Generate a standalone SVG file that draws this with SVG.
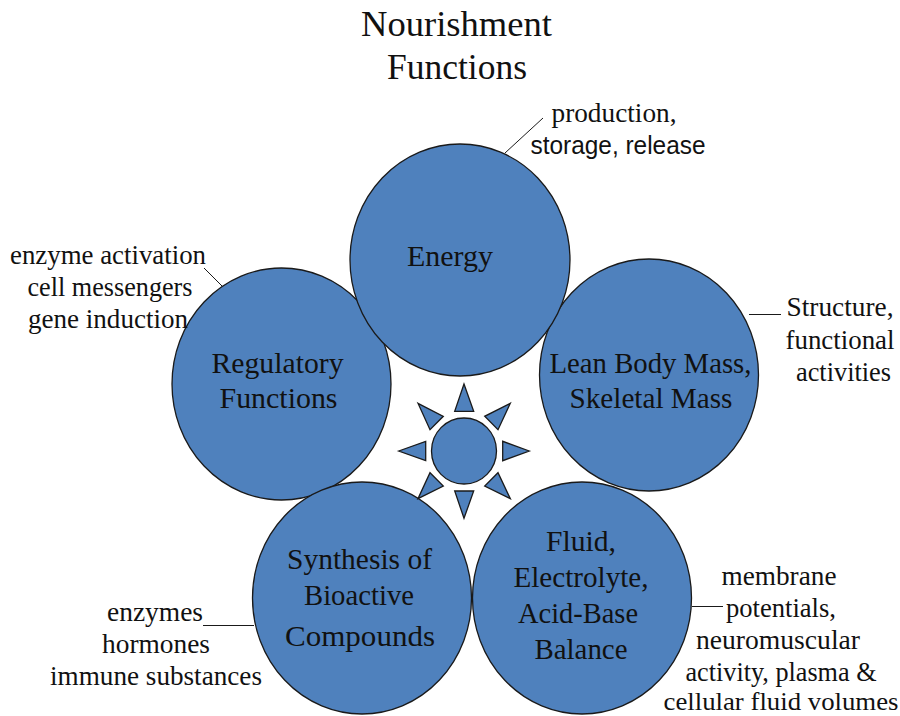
<svg xmlns="http://www.w3.org/2000/svg" width="900" height="716" viewBox="0 0 900 716">
<style>
.c{fill:#4f81bd;stroke:#1a1a1a;stroke-width:1.3}
.l{stroke:#1a1a1a;stroke-width:1;fill:none}
text{font-family:"Liberation Serif",serif;fill:#111;text-anchor:middle}
.t{font-size:35px}.n{font-size:29px}.a{font-size:27px}.b{font-size:26px}
.s{font-family:"Liberation Sans",sans-serif;font-size:25px}
</style>
<rect width="900" height="716" fill="#fff"/>
<g id="connectors">
<path class="l" d="M505 153L543 118"/>
<path class="l" d="M204 268L222 286"/>
<path class="l" d="M749 314.500H781"/>
<path class="l" d="M692 606.500H723"/>
<path class="l" d="M203 625.500H254"/>
</g>
<g id="title"><text class="t" x="456.500" y="36" textLength="191" lengthAdjust="spacingAndGlyphs">Nourishment</text><text class="t" x="457" y="79" textLength="140" lengthAdjust="spacingAndGlyphs">Functions</text></g>
<g id="regulatory"><ellipse class="c" cx="281.500" cy="384" rx="109.500" ry="116"/><text class="n" x="277.500" y="373" textLength="132" lengthAdjust="spacingAndGlyphs">Regulatory</text><text class="n" x="278.500" y="408" textLength="118" lengthAdjust="spacingAndGlyphs">Functions</text></g>
<g id="lean"><ellipse class="c" cx="649" cy="375" rx="109.500" ry="116"/><text class="n" x="650.500" y="373" textLength="202" lengthAdjust="spacingAndGlyphs">Lean Body Mass,</text><text class="n" x="651" y="408" textLength="163" lengthAdjust="spacingAndGlyphs">Skeletal Mass</text></g>
<g id="energy"><ellipse class="c" cx="460" cy="260" rx="110" ry="116"/><text class="n" x="450" y="266" textLength="86" lengthAdjust="spacingAndGlyphs">Energy</text></g>
<g id="synthesis"><ellipse class="c" cx="362" cy="598" rx="109.500" ry="116"/><text class="n" x="359.500" y="569" textLength="145" lengthAdjust="spacingAndGlyphs">Synthesis of</text><text class="n" x="359" y="605" textLength="110" lengthAdjust="spacingAndGlyphs">Bioactive</text><text class="n" x="360" y="646" textLength="150" lengthAdjust="spacingAndGlyphs">Compounds</text></g>
<g id="fluid"><ellipse class="c" cx="582" cy="598" rx="109.500" ry="116"/><text class="n" x="581" y="551" textLength="70" lengthAdjust="spacingAndGlyphs">Fluid,</text><text class="n" x="581" y="587" textLength="135" lengthAdjust="spacingAndGlyphs">Electrolyte,</text><text class="n" x="578" y="623" textLength="120" lengthAdjust="spacingAndGlyphs">Acid-Base</text><text class="n" x="581" y="659" textLength="93" lengthAdjust="spacingAndGlyphs">Balance</text></g>
<g id="sun">
<ellipse class="c" cx="464" cy="451" rx="32.500" ry="33"/>
<path class="c" d="M464 384L454.700 411.300H473.700Z"/>
<path class="c" d="M510.300 403.300L484.700 416.300L498 429.700Z"/>
<path class="c" d="M529.300 451L502.700 441.300V460.700Z"/>
<path class="c" d="M510.300 498.700L484.700 486L498 472.700Z"/>
<path class="c" d="M464 518.300L454.700 491H473.700Z"/>
<path class="c" d="M418 498.700L443.300 486L430 472.700Z"/>
<path class="c" d="M398.700 451L425.700 441.300V460.700Z"/>
<path class="c" d="M418 403.300L443.300 416.300L430 429.700Z"/>
</g>
<g id="label-energy"><text class="a" x="614" y="122" textLength="125" lengthAdjust="spacingAndGlyphs">production,</text><text class="s" x="618" y="154" textLength="175" lengthAdjust="spacingAndGlyphs">storage, release</text></g>
<g id="label-regulatory"><text class="a" x="108" y="264" textLength="196" lengthAdjust="spacingAndGlyphs">enzyme activation</text><text class="a" x="110" y="296" textLength="165" lengthAdjust="spacingAndGlyphs">cell messengers</text><text class="a" x="108" y="328" textLength="160" lengthAdjust="spacingAndGlyphs">gene induction</text></g>
<g id="label-lean"><text class="a" x="840" y="316" textLength="107" lengthAdjust="spacingAndGlyphs">Structure,</text><text class="a" x="840" y="349" textLength="109" lengthAdjust="spacingAndGlyphs">functional</text><text class="a" x="843.500" y="381" textLength="95" lengthAdjust="spacingAndGlyphs">activities</text></g>
<g id="label-fluid"><text class="a" x="779" y="585" textLength="115" lengthAdjust="spacingAndGlyphs">membrane</text><text class="a" x="781" y="617" textLength="110" lengthAdjust="spacingAndGlyphs">potentials,</text><text class="a" x="778" y="649" textLength="164" lengthAdjust="spacingAndGlyphs">neuromuscular</text><text class="a" x="781" y="681" textLength="191" lengthAdjust="spacingAndGlyphs">activity, plasma &amp;</text><text class="b" x="781" y="710" textLength="235" lengthAdjust="spacingAndGlyphs">cellular fluid volumes</text></g>
<g id="label-synthesis"><text class="a" x="155" y="621" textLength="96" lengthAdjust="spacingAndGlyphs">enzymes</text><text class="a" x="156" y="653" textLength="108" lengthAdjust="spacingAndGlyphs">hormones</text><text class="a" x="156" y="685" textLength="212" lengthAdjust="spacingAndGlyphs">immune substances</text></g>
</svg>
